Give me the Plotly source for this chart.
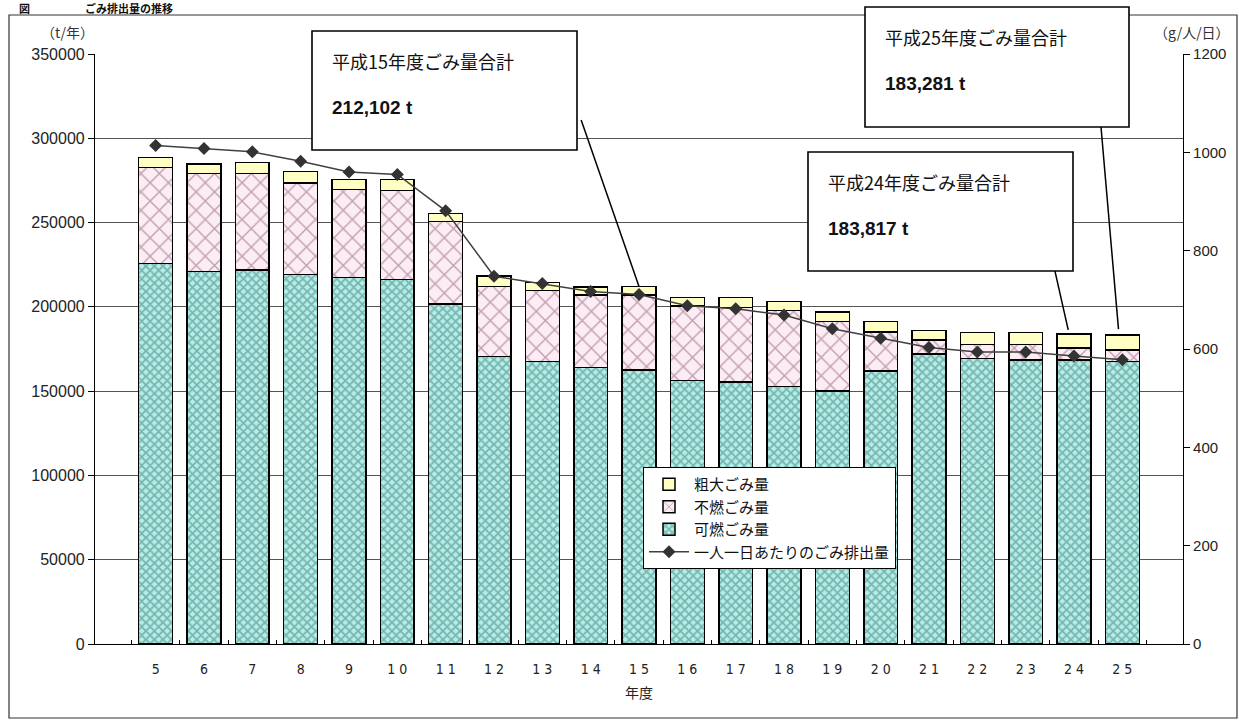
import plotly.graph_objects as go

# ---- data ----
years = ["5", "6", "7", "8", "9", "10", "11", "12", "13", "14", "15",
         "16", "17", "18", "19", "20", "21", "22", "23", "24", "25"]
tick_labels = ["5", "6", "7", "8", "9", "1 0", "1 1", "1 2", "1 3", "1 4", "1 5",
               "1 6", "1 7", "1 8", "1 9", "2 0", "2 1", "2 2", "2 3", "2 4", "2 5"]
combustible = [225600, 221080, 221860, 219080, 217520, 216340, 201690, 170430, 167460, 163900, 162540,
               156420, 155420, 152640, 150080, 161940, 172030, 169240, 168470, 168470, 167460]
incombustible = [56940, 57920, 57140, 54390, 52200, 52560, 48820, 41520, 42360, 43130, 44490,
                 44080, 44300, 45300, 41340, 23140, 8300, 8310, 9080, 7120, 6940]
bulky = [5930, 5740, 6510, 6700, 5710, 6530, 4750, 6350, 4740, 4740, 5072,
         4930, 5710, 5340, 5520, 6340, 5520, 7350, 7350, 8227, 8881]
per_capita = [1014, 1008, 1001, 982, 960, 955, 881, 748, 733, 717, 711,
              688, 682, 669, 641, 622, 603, 594, 594, 586, 578]

callouts = [
    {"idx": 10, "total": 212102, "title": "平成15年度ごみ量合計", "value": "212,102 t"},
    {"idx": 19, "total": 183817, "title": "平成24年度ごみ量合計", "value": "183,817 t"},
    {"idx": 20, "total": 183281, "title": "平成25年度ごみ量合計", "value": "183,281 t"},
]

# ---- layout geometry (pixels) ----
W, H = 1239, 722
L, R, T, B = 95, 1183, 54, 644


def pxx(x):
    return (x - L) / (R - L)


def pxy(y):
    return (B - y) / (B - T)


FONT = "Liberation Sans, Noto Sans CJK JP, sans-serif"
JFONT = "Noto Sans CJK JP, Liberation Sans, sans-serif"

fig = go.Figure()

fig.add_trace(go.Bar(
    x=years, y=combustible, name="可燃ごみ量", legendrank=3,
    marker=dict(color="#8fd0c9", line=dict(color="black", width=1.5),
                pattern=dict(shape="x", fgcolor="#2f7d77", bgcolor="#b8ece6", size=6, solidity=0.5)),
))
fig.add_trace(go.Bar(
    x=years, y=incombustible, name="不燃ごみ量", legendrank=2,
    marker=dict(color="#f8e6ef", line=dict(color="black", width=1.5),
                pattern=dict(shape="x", fgcolor="#86506f", bgcolor="#fcecf4", size=13, solidity=0.2)),
))
fig.add_trace(go.Bar(
    x=years, y=bulky, name="粗大ごみ量", legendrank=1,
    marker=dict(color="#ffffc4", line=dict(color="black", width=1.5)),
))
fig.add_trace(go.Scatter(
    x=years, y=per_capita, name="一人一日あたりのごみ排出量", yaxis="y2", legendrank=4,
    mode="lines+markers",
    line=dict(color="#404040", width=1.5),
    marker=dict(symbol="diamond", size=10, color="#333333"),
))

shapes = []
annotations = []

# outer frame
shapes.append(dict(type="rect", xref="paper", yref="paper",
                   x0=pxx(9), x1=pxx(1237), y0=pxy(15), y1=pxy(718),
                   line=dict(color="#333333", width=1.2), fillcolor="rgba(0,0,0,0)", layer="below"))

# callout boxes (pixel rects) and anchor points on the box edge
boxes = [
    dict(x0=312, y0=31, x1=577, y1=150, lx=577, ly=120, dx=0.0, dy=0),
    dict(x0=808, y0=152, x1=1073, y1=271, lx=1073, ly=222, dx=-0.12, dy=2500),
    dict(x0=865, y0=7, x1=1129, y1=127, lx=1128, ly=60, dx=-0.08, dy=3500),
]
cat_w = (R - L) / len(years)

for c, b in zip(callouts, boxes):
    sx = (b["lx"] - L) / cat_w - 0.5
    sy = (B - b["ly"]) / (B - T) * 350000
    shapes.append(dict(type="line", xref="x", yref="y",
                       x0=sx, y0=sy, x1=c["idx"] + b["dx"], y1=c["total"] + b["dy"],
                       line=dict(color="black", width=1.5), layer="above"))
    shapes.append(dict(type="rect", xref="paper", yref="paper",
                       x0=pxx(b["x0"]), x1=pxx(b["x1"]), y0=pxy(b["y0"]), y1=pxy(b["y1"]),
                       line=dict(color="black", width=1.6), fillcolor="white", layer="above"))
    annotations.append(dict(xref="paper", yref="paper", x=pxx(b["x0"] + 18), y=pxy(b["y0"] + 30),
                            xanchor="left", yanchor="middle", showarrow=False,
                            text=c["title"], font=dict(family=JFONT, size=18, color="#111")))
    annotations.append(dict(xref="paper", yref="paper", x=pxx(b["x0"] + 18), y=pxy(b["y0"] + 76),
                            xanchor="left", yanchor="middle", showarrow=False,
                            text="<b>" + c["value"] + "</b>", font=dict(family=FONT, size=19, color="#111")))

# axis unit labels
annotations.append(dict(xref="paper", yref="paper", x=pxx(67), y=pxy(32), xanchor="center", yanchor="middle",
                        showarrow=False, text="（t/年）", font=dict(family=JFONT, size=14, color="#333")))
annotations.append(dict(xref="paper", yref="paper", x=pxx(1192), y=pxy(32), xanchor="center", yanchor="middle",
                        showarrow=False, text="（g/人/日）", font=dict(family=JFONT, size=14, color="#333")))
# chart caption at the top edge
annotations.append(dict(xref="paper", yref="paper", x=pxx(18), y=pxy(8), xanchor="left", yanchor="middle",
                        showarrow=False, text="<b>図　　　　　ごみ排出量の推移</b>", borderpad=0,
                        font=dict(family=JFONT, size=11, color="#111")))

fig.update_layout(
    width=W, height=H,
    margin=dict(l=L, r=W - R, t=T, b=H - B, pad=0),
    paper_bgcolor="white", plot_bgcolor="white",
    barmode="stack", bargap=0.3,
    font=dict(family=FONT, color="#222"),
    showlegend=True,
    legend=dict(x=pxx(643), y=pxy(467), xanchor="left", yanchor="top",
                bgcolor="white", bordercolor="black", borderwidth=1,
                font=dict(family=JFONT, size=15, color="#111"),
                traceorder="normal", tracegroupgap=0, itemwidth=40),
    xaxis=dict(type="category", tickvals=years, ticktext=tick_labels,
               showline=True, linecolor="black", linewidth=1.2,
               ticks="inside", tickson="boundaries", ticklen=4, tickcolor="black",
               showgrid=False,
               tickfont=dict(family="Liberation Sans Narrow, DejaVu Sans Condensed, Liberation Sans", size=14, color="#222"),
               ticklabelstandoff=12,
               title=dict(text="年度", font=dict(family=JFONT, size=14, color="#222"), standoff=12)),
    yaxis=dict(range=[0, 350000], dtick=50000, tickformat="d",
               showgrid=True, gridcolor="#555555", gridwidth=1, zeroline=False,
               showline=True, linecolor="black", linewidth=1.2,
               ticks="outside", ticklen=6, tickcolor="black",
               tickfont=dict(family=FONT, size=16, color="#222")),
    yaxis2=dict(range=[0, 1200], dtick=200, tickformat="d", overlaying="y", side="right",
                showgrid=False, zeroline=False, showline=True, linecolor="black", linewidth=1.2,
                ticks="outside", ticklen=6, tickcolor="black",
                tickfont=dict(family=FONT, size=15, color="#222")),
    shapes=shapes,
    annotations=annotations,
)

fig.write_html("out.html")
